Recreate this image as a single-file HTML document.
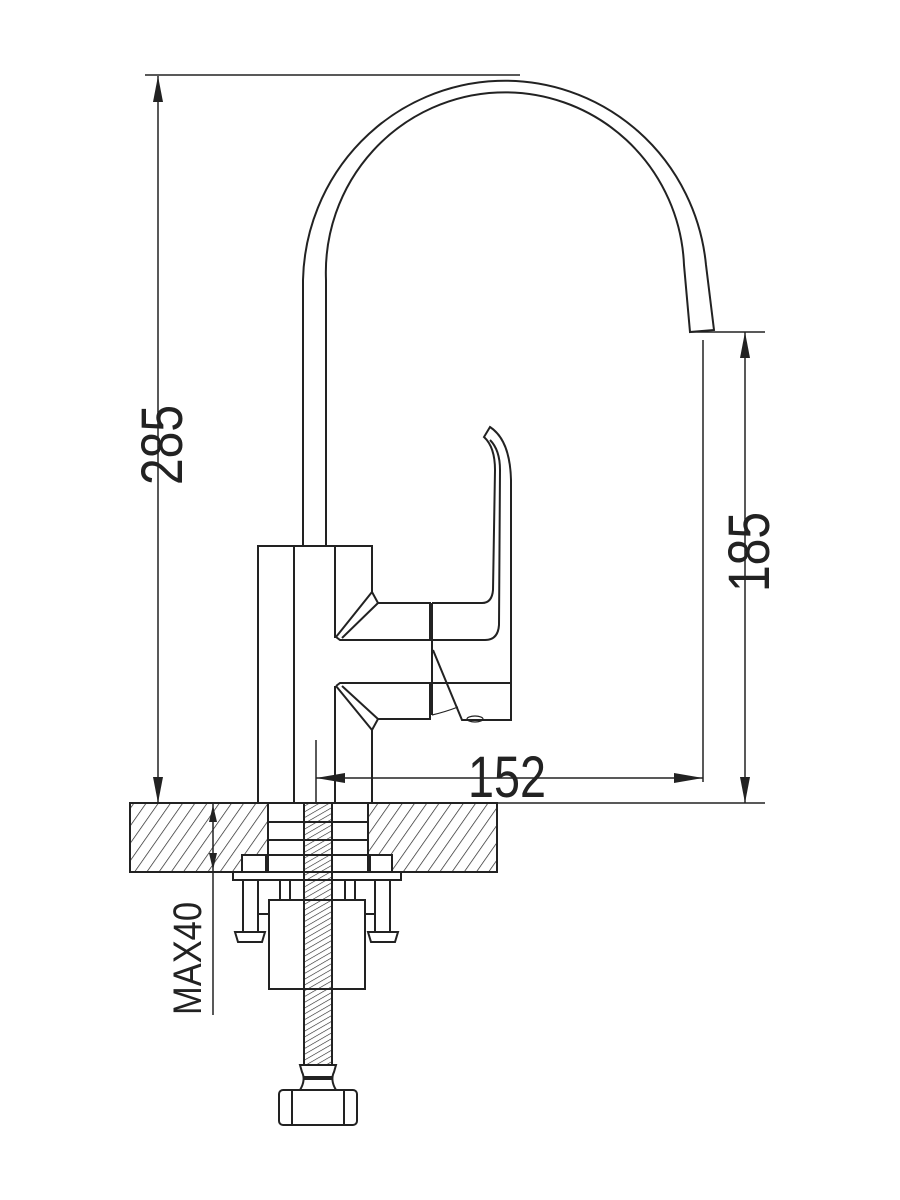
<!DOCTYPE html>
<html><head><style>html,body{margin:0;padding:0;background:#fff}svg{display:block}</style></head>
<body>
<svg width="900" height="1200" viewBox="0 0 900 1200" xmlns="http://www.w3.org/2000/svg">
<defs>
<pattern id="h" width="10" height="10" patternUnits="userSpaceOnUse" patternTransform="rotate(35)">
<line x1="0" y1="0" x2="0" y2="10" stroke="#222" stroke-width="1.4"/>
</pattern>
<pattern id="t" width="5" height="5" patternUnits="userSpaceOnUse" patternTransform="rotate(60)">
<line x1="0" y1="0" x2="0" y2="5" stroke="#222" stroke-width="1.2"/>
</pattern>
</defs>
<g fill="none" stroke="#222" stroke-width="2">
<!-- spout -->
<path d="M303 545 L303 280 A202 204 0 0 1 706 265 L714 330 L690 332 L684 265 A179 180 0 0 0 326 280 L326 545"/>
<!-- body -->
<path d="M372 592 L372 546 L258 546 L258 803 L372 803 L372 730"/>
<line x1="294" y1="546" x2="294" y2="803"/>
<line x1="335" y1="546" x2="335" y2="638"/>
<line x1="335" y1="686" x2="335" y2="803"/>
<!-- upper arm -->
<path d="M372 592 L378 603 L430 603 L430 640 L340 640 L336 637 L372 592"/>
<line x1="378" y1="603" x2="342" y2="638"/>
<!-- lower arm -->
<path d="M336 686 L340 683 L430 683 L430 719 L378 719 L372 730 L336 686"/>
<line x1="378" y1="719" x2="342" y2="686"/>
<!-- handle -->
<path d="M432 603 L482 603 Q492 603 493 590 L495 470 Q495 447 484 437 L490 427 Q510 440 511 480 L511 720 L462 720 L433 650"/>
<path d="M432 640 L485 640 Q498 640 499 625 L500 470 Q500 450 490 440"/>
<line x1="432" y1="683" x2="511" y2="683"/>
<line x1="432" y1="603" x2="432" y2="715"/>
<path d="M432 715 Q445 712 458 707" stroke-width="1.2"/>
<ellipse cx="475" cy="719" rx="8" ry="3" stroke-width="1.2"/>
</g>
<!-- countertop -->
<path d="M130 803 H268 V872 H130 Z M368 803 H497 V872 H368 Z" fill="url(#h)" stroke="#222" stroke-width="2"/>
<line x1="130" y1="803" x2="765" y2="803" stroke="#222" stroke-width="1.5"/>
<g fill="none" stroke="#222" stroke-width="2">
<line x1="268" y1="822" x2="368" y2="822"/>
<line x1="268" y1="840" x2="368" y2="840"/>
<line x1="268" y1="855" x2="368" y2="855"/>
<rect x="242" y="855" width="24" height="17" fill="#fff"/>
<rect x="370" y="855" width="22" height="17" fill="#fff"/>
<rect x="233" y="872" width="168" height="8" fill="#fff"/>
<rect x="243" y="880" width="15" height="52"/>
<rect x="375" y="880" width="15" height="52"/>
<path d="M235 932 H265 L262 942 H238 Z"/>
<path d="M368 932 H398 L395 942 H371 Z"/>
<line x1="258" y1="914" x2="375" y2="914"/>
<line x1="280" y1="880" x2="280" y2="900"/><line x1="290" y1="880" x2="290" y2="900"/>
<line x1="345" y1="880" x2="345" y2="900"/><line x1="355" y1="880" x2="355" y2="900"/>
<rect x="269" y="900" width="96" height="89" fill="#fff"/>
</g>
<!-- rod -->
<rect x="304" y="803" width="28" height="262" fill="url(#t)" stroke="#222" stroke-width="2"/>
<g fill="none" stroke="#222" stroke-width="2">
<path d="M300 1065 H336 L334 1072 Q330 1080 336 1090 H300 Q306 1080 302 1072 Z"/>
<rect x="279" y="1090" width="78" height="35" rx="4"/>
<line x1="292" y1="1090" x2="292" y2="1125"/>
<line x1="344" y1="1090" x2="344" y2="1125"/>
</g>
<line x1="304" y1="1078" x2="332" y2="1078" stroke="#222" stroke-width="4"/>
<!-- dimensions -->
<g stroke="#222" stroke-width="1.5" fill="none">
<line x1="145" y1="75" x2="520" y2="75"/>
<line x1="158" y1="76" x2="158" y2="803"/>
<line x1="690" y1="332" x2="765" y2="332"/>
<line x1="745" y1="332" x2="745" y2="803"/>
<line x1="703" y1="340" x2="703" y2="782"/>
<line x1="316" y1="740" x2="316" y2="803"/>
<line x1="316" y1="778" x2="703" y2="778"/>
<line x1="213" y1="803" x2="213" y2="1015"/>
</g>
<g fill="#222">
<path d="M158 76 L153 102 L163 102 Z"/>
<path d="M158 803 L153 777 L163 777 Z"/>
<path d="M745 332 L740 358 L750 358 Z"/>
<path d="M745 803 L740 777 L750 777 Z"/>
<path d="M316 778 L345 773 L345 783 Z"/>
<path d="M703 778 L674 773 L674 783 Z"/>
<path d="M213 805 L209 822 L217 822 Z"/>
<path d="M213 870 L209 853 L217 853 Z"/>
</g>
<g font-family="Liberation Sans, sans-serif" fill="#222">
<text x="0" y="0" font-size="58" textLength="80" lengthAdjust="spacingAndGlyphs" transform="translate(182 485) rotate(-90)">285</text>
<text x="0" y="0" font-size="58" textLength="80" lengthAdjust="spacingAndGlyphs" transform="translate(769 592) rotate(-90)">185</text>
<text x="468" y="797" font-size="58" textLength="78" lengthAdjust="spacingAndGlyphs">152</text>
<text x="0" y="0" font-size="40" textLength="113" lengthAdjust="spacingAndGlyphs" transform="translate(201 1015) rotate(-90)">MAX40</text>
</g>
</svg>
</body></html>
